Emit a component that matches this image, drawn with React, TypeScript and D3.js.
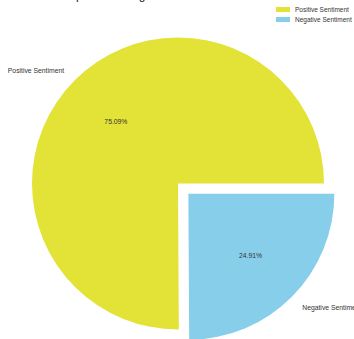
import React from "react";
import * as d3 from "d3";

const categories = ["Positive Sentiment", "Negative Sentiment"];
const values = [75.09, 24.91];
const colors = ["#e3e236", "#87ceeb"];
const explode = [0, 0.1];
const title = "Spread of Negative vs Positive Sentiment";

const W = 354;
const H = 339;
const cx = 178;
const cy = 183.5;
const R = 146;
const FONT = "Liberation Sans, Arial, sans-serif";

export default function App() {
  const pie = d3
    .pie<number>()
    .sort(null)
    .startAngle(Math.PI / 2)
    .endAngle(Math.PI / 2 - 2 * Math.PI);
  const arcs = pie(values);
  const arc = d3.arc<d3.PieArcDatum<number>>().innerRadius(0).outerRadius(R);

  return (
    <svg
      width={W}
      height={H}
      style={{ position: "absolute", left: 0, top: 0, background: "#fff" }}
      fontFamily={FONT}
    >
      <text x={68} y={-1} fontSize={12} fill="#222">
        {title}
      </text>
      {arcs.map((a, i) => {
        const mid = (a.startAngle + a.endAngle) / 2;
        const dx = Math.sin(mid) * explode[i] * R;
        const dy = -Math.cos(mid) * explode[i] * R;
        const ox = cx + dx;
        const oy = cy + dy;
        const lx = Math.sin(mid) * R * 1.1;
        const ly = -Math.cos(mid) * R * 1.1;
        const px = Math.sin(mid) * R * 0.6;
        const py = -Math.cos(mid) * R * 0.6;
        return (
          <g key={categories[i]} transform={`translate(${ox},${oy})`}>
            <path d={arc(a) || ""} fill={colors[i]} />
            <text
              x={lx}
              y={ly}
              fontSize={6.8}
              fill="#333"
              textAnchor={lx < 0 ? "end" : "start"}
              dominantBaseline="central"
            >
              {categories[i]}
            </text>
            <text
              x={px}
              y={py}
              fontSize={6.8}
              fill="#333"
              textAnchor="middle"
              dominantBaseline="central"
            >
              {`${values[i].toFixed(2)}%`}
            </text>
          </g>
        );
      })}
      <g>
        {categories.map((c, i) => (
          <g key={c} transform={`translate(276,${7 + i * 10})`}>
            <rect width={14} height={5} fill={colors[i]} />
            <text x={19} y={2.5} fontSize={6.5} fill="#333" dominantBaseline="central">
              {c}
            </text>
          </g>
        ))}
      </g>
    </svg>
  );
}
